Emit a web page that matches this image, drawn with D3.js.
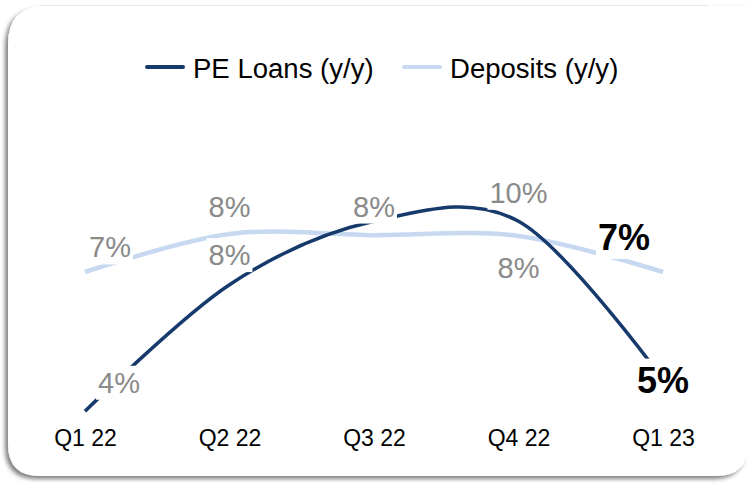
<!DOCTYPE html>
<html>
<head>
<meta charset="utf-8">
<script src="https://cdn.jsdelivr.net/npm/d3@7"></script>
<style>
  body { margin: 0; background: #fff; }
  svg { display: block; font-family: "Liberation Sans", Arial, sans-serif; }
</style>
</head>
<body>
<div id="chart"></div>
<script>
// Datos
const categories = ["Q1 22", "Q2 22", "Q3 22", "Q4 22", "Q1 23"];
const loans = [4.0, 8.0, 10.0, 10.0, 5.0];
const deposits = [7.0, 8.0, 7.97, 7.95, 7.0];
const loanLabels = ["4%", "8%", null, "10%", "5%"];
const depositLabels = ["7%", "8%", "8%", "8%", "7%"];
const seriesNames = ["PE Loans (y/y)", "Deposits (y/y)"];

// Dimensiones
const width = 747;
const height = 484;
const navy = "#173a6c";
const lightBlue = "#c6d9f1";
const grey = "#8a8a8a";

// posicion de las etiquetas respecto al punto (dx, dy, destacada)
const loanLabelPos = [[34, -29, false], [0, -30, false], null, [0, -29, false], [0, 0, true]];
const depositLabelPos = [[25, -25, false], [0, -27, false], [0, -29, false], [0, 32, false], [-39, -35, true]];

const svg = d3
  .select("div#chart")
  .append("svg")
  .attr("width", width)
  .attr("height", height);

// Sombra de la tarjeta
const defs = svg.append("defs");
const filter = defs
  .append("filter")
  .attr("id", "shadow")
  .attr("x", "-5%")
  .attr("y", "-5%")
  .attr("width", "110%")
  .attr("height", "110%");
filter
  .append("feDropShadow")
  .attr("dx", -3)
  .attr("dy", 3)
  .attr("stdDeviation", 2.2)
  .attr("flood-color", "#000")
  .attr("flood-opacity", 0.5);

svg
  .append("line")
  .attr("x1", 40)
  .attr("x2", 707)
  .attr("y1", 5.5)
  .attr("y2", 5.5)
  .attr("stroke", "#eeeeee")
  .attr("stroke-width", 1);

// Tarjeta: esquinas redondeadas salvo arriba a la derecha (fuera de imagen)
const cx0 = 8, cy0 = 6, cx1 = 748, cy1 = 476, rTL = 38, rB = 32;
svg
  .append("path")
  .attr(
    "d",
    `M${cx0 + rTL},${cy0} L${cx1 + 20},${cy0} L${cx1 + 20},${cy0 + 10} L${cx1},${cy0 + 10}
     L${cx1},${cy1 - rB} Q${cx1},${cy1} ${cx1 - rB},${cy1}
     L${cx0 + rB},${cy1} Q${cx0},${cy1} ${cx0},${cy1 - rB}
     L${cx0},${cy0 + rTL} Q${cx0},${cy0} ${cx0 + rTL},${cy0} Z`
  )
  .attr("fill", "#fff")
  .attr("filter", "url(#shadow)");

// Escalas
const x = d3.scalePoint().domain(categories).range([85, 663]);
const yLoans = d3.scaleLinear().domain([0, 13.2]).range([538, 120]);
const yDeposits = d3.scaleLinear().domain([0, 11]).range([538, 120]);

// Eje X
const xAxis = d3.axisBottom(x).tickSize(0).tickPadding(0);
const xAxisGroup = svg
  .append("g")
  .attr("transform", "translate(0, 428)")
  .call(xAxis);
xAxisGroup.select(".domain").remove();
xAxisGroup
  .selectAll("text")
  .attr("font-size", 23)
  .attr("font-family", "Liberation Sans, Arial, sans-serif")
  .attr("fill", "#000")
  .attr("dy", "0.8em");

// Lineas
const lineGroup = svg.append("g");
const lineFor = (scale) =>
  d3
    .line()
    .x((d, i) => x(categories[i]))
    .y((d) => scale(d))
    .curve(d3.curveCardinal.tension(0));

lineGroup
  .append("path")
  .datum(deposits)
  .attr("d", lineFor(yDeposits))
  .attr("fill", "none")
  .attr("stroke", lightBlue)
  .attr("stroke-width", 4.5);

lineGroup
  .append("path")
  .datum(loans)
  .attr("d", lineFor(yLoans))
  .attr("fill", "none")
  .attr("stroke", navy)
  .attr("stroke-width", 3.5);

// Etiquetas de datos con fondo blanco
const labelGroup = svg.append("g");
const paintLabels = (values, labels, positions, scale) => {
  values.forEach((v, i) => {
    if (!labels[i]) return;
    const [dx, dy, strong] = positions[i];
    const g = labelGroup.append("g");
    const t = g
      .append("text")
      .attr("x", x(categories[i]) + dx)
      .attr("y", scale(v) + dy)
      .attr("dy", "0.36em")
      .attr("text-anchor", "middle")
      .attr("font-size", strong ? 36 : 29)
      .attr("font-weight", strong ? "bold" : "normal")
      .attr("fill", strong ? "#000" : grey)
      .text(labels[i]);
    const b = t.node().getBBox();
    g.insert("rect", "text")
      .attr("x", b.x - 2)
      .attr("y", b.y - 1)
      .attr("width", b.width + 4)
      .attr("height", b.height + 2)
      .attr("fill", "#fff");
  });
};
paintLabels(deposits, depositLabels, depositLabelPos, yDeposits);
paintLabels(loans, loanLabels, loanLabelPos, yLoans);

// Leyenda
const legend = svg.append("g");
const legendItems = [
  { name: seriesNames[0], color: navy, x: 145 },
  { name: seriesNames[1], color: lightBlue, x: 402 },
];
legendItems.forEach((d) => {
  legend
    .append("line")
    .attr("x1", d.x + 2)
    .attr("x2", d.x + 38)
    .attr("y1", 67)
    .attr("y2", 67)
    .attr("stroke", d.color)
    .attr("stroke-width", 4)
    .attr("stroke-linecap", "round");
  legend
    .append("text")
    .attr("transform", `translate(${d.x + 48}, 78) scale(1.02, 1)`)
    .attr("font-size", 27)
    .attr("fill", "#000")
    .text(d.name);
});
</script>
</body>
</html>
